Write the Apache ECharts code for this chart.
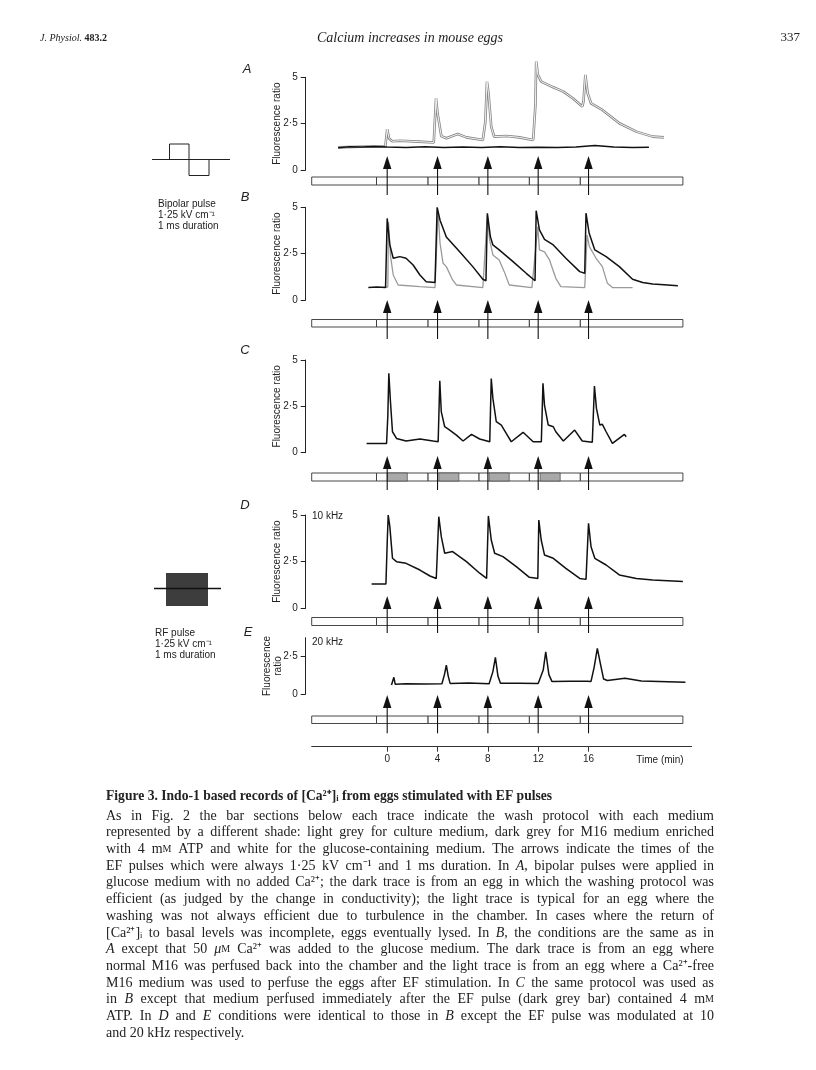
<!DOCTYPE html>
<html>
<head>
<meta charset="utf-8">
<script src="https://cdn.jsdelivr.net/npm/echarts@6.0.0/dist/echarts.min.js"></script>
<style>
html, body { margin: 0; padding: 0; background: #fff; }
#main { width: 816px; height: 1070px; }
</style>
</head>
<body>
<div id="main"></div>
<script>
// time in minutes, values = fluorescence ratio
var timeTicks = [0, 4, 8, 12, 16];
var pulseTimes = [0, 4, 8, 12, 16];
var washBounds = [-6, -0.85, 3.25, 7.3, 11.3, 15.35, 23.5];
var atpBlocks = [[0, 1.6], [4.1, 5.7], [8.1, 9.7], [12.15, 13.75]];
var yTicks = [0, 2.5, 5];
var yTicksE = [0, 2.5];

var traceADark = [[-3.9,1.2],[-3.0,1.26],[-2.0,1.24],[-1.0,1.27],[0.0,1.24],[1.5,1.22],[3.0,1.25],[4.5,1.21],[6.0,1.24],[7.5,1.22],[9.0,1.25],[10.5,1.21],[12.0,1.23],[13.5,1.22],[15.0,1.24],[16.5,1.32],[18.0,1.24],[19.5,1.22],[20.8,1.23]];
var traceALight = [[-3.9,1.22],[-1.5,1.27],[-0.15,1.26],[0.0,2.2],[0.15,1.7],[0.4,1.55],[1.0,1.58],[2.5,1.53],[3.7,1.48],[3.8,2.8],[3.88,3.87],[4.0,3.06],[4.3,1.83],[4.7,1.71],[5.6,1.94],[6.3,1.76],[7.6,1.62],[7.8,2.6],[7.93,4.77],[8.05,4.14],[8.27,2.34],[8.5,1.8],[9.5,1.83],[10.5,1.76],[11.6,1.62],[11.78,3.5],[11.84,5.85],[11.98,5.13],[12.24,4.77],[13.2,4.46],[14.0,4.23],[14.75,3.87],[15.5,3.42],[15.6,3.7],[15.75,5.13],[15.93,4.14],[16.2,3.6],[17.1,3.24],[18.45,2.52],[19.8,2.07],[21.1,1.8],[22.0,1.76]];

var traceBDark = [[-1.5,0.68],[-0.8,0.7],[-0.13,0.67],[0.0,4.4],[0.2,3.0],[0.48,2.25],[1.0,2.34],[1.5,2.25],[2.06,1.89],[2.6,1.35],[3.1,0.99],[3.8,0.94],[3.97,5.0],[4.2,4.3],[4.7,3.4],[5.76,2.6],[6.8,1.8],[7.6,1.12],[7.85,1.04],[7.96,4.68],[8.2,3.42],[8.4,2.97],[8.9,2.7],[10.0,2.07],[11.05,1.44],[11.75,1.04],[11.84,4.82],[12.1,3.78],[12.5,3.27],[13.2,2.97],[14.2,2.25],[15.3,1.53],[15.7,1.44],[15.8,4.68],[16.05,3.6],[16.5,2.7],[17.4,2.34],[18.45,1.8],[19.5,1.12],[20.3,0.94],[21.1,0.86],[22.0,0.82],[23.1,0.77]];
var traceBLight = [[-0.3,0.68],[0.05,0.7],[0.1,4.2],[0.27,2.34],[0.48,1.35],[0.87,0.81],[2.6,0.72],[3.8,0.67],[4.04,4.77],[4.2,3.06],[4.44,1.98],[4.7,1.8],[5.2,1.08],[5.5,0.81],[7.6,0.67],[7.96,4.59],[8.14,3.24],[8.4,2.43],[8.9,2.16],[9.3,1.53],[9.7,0.81],[11.5,0.67],[11.97,3.96],[12.1,2.7],[12.5,2.6],[12.9,2.16],[13.4,1.17],[13.8,0.72],[15.7,0.67],[15.89,3.5],[16.07,2.88],[16.6,2.25],[17.1,1.8],[17.5,0.9],[17.9,0.67],[19.5,0.67]];

var traceC = [[-1.64,0.5],[-0.05,0.5],[0.05,2.0],[0.13,4.28],[0.26,2.75],[0.42,1.13],[0.74,0.77],[1.5,0.63],[2.6,0.74],[3.65,0.63],[4.05,0.59],[4.18,3.88],[4.3,2.2],[4.57,1.4],[4.97,1.22],[5.5,0.95],[6.03,0.63],[6.7,0.99],[7.35,0.74],[8.15,0.59],[8.27,4.0],[8.4,2.93],[8.67,1.67],[9.07,1.49],[9.46,1.04],[9.86,0.59],[10.8,1.1],[11.6,0.59],[12.25,0.59],[12.38,3.74],[12.5,2.57],[12.8,1.49],[13.2,1.4],[13.4,1.13],[14.0,0.63],[14.9,1.22],[15.5,0.63],[16.3,0.56],[16.47,3.6],[16.63,2.39],[16.9,1.49],[17.1,1.53],[17.4,1.13],[17.9,0.5],[18.85,0.99],[19.0,0.86]];

var traceD = [[-1.24,1.3],[-0.1,1.3],[0.0,3.5],[0.08,5.0],[0.21,4.38],[0.42,2.68],[0.74,2.5],[1.5,2.41],[2.6,2.05],[3.4,1.73],[3.9,1.6],[4.1,4.91],[4.3,3.84],[4.57,2.95],[5.2,3.04],[6.3,2.5],[7.35,1.88],[7.9,1.6],[8.04,4.95],[8.27,3.66],[8.54,2.95],[9.2,2.77],[10.26,2.23],[11.3,1.66],[11.97,1.6],[12.05,4.73],[12.24,3.66],[12.5,2.86],[13.2,2.68],[14.2,2.14],[15.3,1.6],[15.8,1.55],[16.0,4.55],[16.2,3.3],[16.5,2.68],[17.4,2.32],[18.45,1.79],[19.8,1.6],[21.1,1.52],[23.5,1.43]];

var traceE = [[0.34,0.6],[0.45,0.62],[0.53,1.12],[0.64,0.65],[1.5,0.69],[3.0,0.67],[4.35,0.69],[4.55,1.3],[4.7,1.94],[4.85,1.2],[5.0,0.71],[6.5,0.73],[8.1,0.69],[8.4,1.5],[8.6,2.46],[8.8,1.2],[9.0,0.72],[10.5,0.72],[12.0,0.71],[12.4,1.6],[12.6,2.83],[12.85,1.3],[13.1,0.83],[14.5,0.85],[15.9,0.85],[16.2,0.84],[16.45,1.8],[16.7,3.06],[16.95,2.0],[17.2,1.0],[17.5,0.9],[18.9,1.05],[20.2,0.87],[23.7,0.78]];

var captionTitle = 'Figure 3. Indo-1 based records of [Ca²⁺]ᵢ from eggs stimulated with EF pulses';
var captionLines = [
  'As in Fig. 2 the bar sections below each trace indicate the wash protocol with each medium',
  'represented by a different shade: light grey for culture medium, dark grey for M16 medium enriched',
  'with 4 m{s|M} ATP and white for the glucose-containing medium. The arrows indicate the times of the',
  'EF pulses which were always 1·25 kV cm⁻¹ and 1 ms duration. In {i|A}, bipolar pulses were applied in',
  'glucose medium with no added Ca²⁺; the dark trace is from an egg in which the washing protocol was',
  'efficient (as judged by the change in conductivity); the light trace is typical for an egg where the',
  'washing was not always efficient due to turbulence in the chamber. In cases where the return of',
  '[Ca²⁺]ᵢ to basal levels was incomplete, eggs eventually lysed. In {i|B}, the conditions are the same as in',
  '{i|A} except that 50 {i|μ}{s|M} Ca²⁺ was added to the glucose medium. The dark trace is from an egg where',
  'normal M16 was perfused back into the chamber and the light trace is from an egg where a Ca²⁺-free',
  'M16 medium was used to perfuse the eggs after EF stimulation. In {i|C} the same protocol was used as',
  'in {i|B} except that medium perfused immediately after the EF pulse (dark grey bar) contained 4 m{s|M}',
  'ATP. In {i|D} and {i|E} conditions were identical to those in {i|B} except the EF pulse was modulated at 10',
  'and 20 kHz respectively.'
];

var SANS = '"Liberation Sans", Arial, sans-serif';
var SERIF = '"Liberation Serif", "Times New Roman", serif';
var X0 = 311.7, XW = 380, XMIN = -6, XMAX = 24.2;

var panels = [
  { letter: 'A', lx: 247, ly: 69, top: 77.3, zero: 170, max: 5, ticks: yTicks, tip: 156, barTop: 177, barBot: 185, end: 195,
    traces: [{ d: traceALight, kind: 'double' }, { d: traceADark, kind: 'dark' }] },
  { letter: 'B', lx: 245, ly: 197, top: 207.3, zero: 300, max: 5, ticks: yTicks, tip: 300, barTop: 319.5, barBot: 327, end: 339,
    traces: [{ d: traceBLight, kind: 'light' }, { d: traceBDark, kind: 'dark' }] },
  { letter: 'C', lx: 245, ly: 350, top: 360, zero: 452.7, max: 5, ticks: yTicks, tip: 456, barTop: 473, barBot: 481, end: 490,
    traces: [{ d: traceC, kind: 'dark' }], atp: true },
  { letter: 'D', lx: 245, ly: 505, top: 515, zero: 608.3, max: 5, ticks: yTicks, tip: 596, barTop: 617.5, barBot: 625.5, end: 633,
    traces: [{ d: traceD, kind: 'dark' }], note: '10 kHz', noteY: 516 },
  { letter: 'E', lx: 248, ly: 632, top: 637.7, zero: 694, max: 3.77, ticks: yTicksE, tip: 695, barTop: 716, barBot: 723.5, end: 733.3,
    traces: [{ d: traceE, kind: 'dark' }], note: '20 kHz', noteY: 642, twoLine: true }
];

var grids = [], xAxes = [], yAxes = [], series = [], graphics = [];

function hiddenX(i) {
  return { gridIndex: i, type: 'value', min: XMIN, max: XMAX, show: false };
}

panels.forEach(function (p, i) {
  grids.push({ left: X0, width: XW, top: p.top, height: p.zero - p.top });
  xAxes.push(hiddenX(i));
  yAxes.push({
    gridIndex: i, type: 'value', min: 0, max: p.max, offset: 6, position: 'left',
    axisLine: { show: true, onZero: false, lineStyle: { color: '#222', width: 1 } },
    axisTick: { show: true, length: 5, customValues: p.ticks, lineStyle: { color: '#222' } },
    axisLabel: { customValues: p.ticks, margin: 8, fontSize: 10, fontFamily: SANS, color: '#222',
      formatter: function (v) { return v === 2.5 ? '2·5' : String(v); } },
    splitLine: { show: false }
  });
  p.traces.forEach(function (t) {
    var base = { type: 'line', xAxisIndex: i, yAxisIndex: i, data: t.d, showSymbol: false, clip: false, silent: true };
    if (t.kind === 'double') {
      series.push(Object.assign({}, base, { lineStyle: { color: '#858585', width: 2.6 } }));
      series.push(Object.assign({}, base, { lineStyle: { color: '#fff', width: 0.9 } }));
    } else if (t.kind === 'light') {
      series.push(Object.assign({}, base, { lineStyle: { color: '#9a9a9a', width: 1.3 } }));
    } else {
      series.push(Object.assign({}, base, { lineStyle: { color: '#111', width: 1.5 } }));
    }
  });
});

// protocol bar + arrow grids
panels.forEach(function (p, i) {
  var gi = 5 + i;
  grids.push({ left: X0, width: XW, top: p.tip, height: p.end - p.tip });
  xAxes.push(hiddenX(gi));
  yAxes.push({ gridIndex: gi, type: 'value', min: 0, max: 1, show: false });
  var segs = [];
  for (var k = 0; k < washBounds.length - 1; k++) segs.push([washBounds[k], washBounds[k + 1], 0]);
  if (p.atp) atpBlocks.forEach(function (b) { segs.push([b[0], b[1], 1]); });
  var bTop = p.barTop - p.tip, bH = p.barBot - p.barTop;
  series.push({
    type: 'custom', xAxisIndex: gi, yAxisIndex: gi, data: segs, silent: true, z: 2,
    renderItem: function (params, api) {
      var cs = params.coordSys;
      var x1 = api.coord([api.value(0), 0])[0], x2 = api.coord([api.value(1), 0])[0];
      var shaded = api.value(2) === 1;
      return { type: 'rect', shape: { x: x1, y: cs.y + bTop, width: x2 - x1, height: bH },
        style: { fill: shaded ? '#a9a9a9' : '#fdfdfd', stroke: '#333', lineWidth: shaded ? 0.6 : 0.9 } };
    }
  });
  series.push({
    type: 'custom', xAxisIndex: gi, yAxisIndex: gi, data: pulseTimes.map(function (t) { return [t]; }), silent: true, z: 3,
    renderItem: function (params, api) {
      var cs = params.coordSys;
      var x = api.coord([api.value(0), 0])[0];
      return { type: 'group', children: [
        { type: 'line', shape: { x1: x, y1: cs.y + 8, x2: x, y2: cs.y + cs.height }, style: { stroke: '#111', lineWidth: 1.1 } },
        { type: 'polygon', shape: { points: [[x, cs.y], [x - 4.2, cs.y + 13], [x + 4.2, cs.y + 13]] }, style: { fill: '#111' } }
      ] };
    }
  });
});

// time axis
grids.push({ left: X0, width: XW, top: 740, height: 6.7 });
xAxes.push({
  gridIndex: 10, type: 'value', min: XMIN, max: XMAX, position: 'bottom',
  axisLine: { show: true, onZero: false, lineStyle: { color: '#333', width: 1 } },
  axisTick: { show: true, length: 5, customValues: timeTicks, lineStyle: { color: '#333' } },
  axisLabel: { customValues: timeTicks, margin: 8, fontSize: 10, fontFamily: SANS, color: '#222' },
  splitLine: { show: false }
});
yAxes.push({ gridIndex: 10, type: 'value', min: 0, max: 1, show: false });

function txt(x, y, text, font, extra) {
  var st = { text: text, font: font, fill: '#222', align: 'left', verticalAlign: 'middle', textAlign: 'left', textVerticalAlign: 'middle' };
  if (extra) Object.keys(extra).forEach(function (k) { st[k] = extra[k]; });
  if (st.align) st.textAlign = st.align;
  return { type: 'text', x: x, y: y, style: st, silent: true };
}

panels.forEach(function (p) {
  graphics.push(txt(p.lx, p.ly, p.letter, 'italic 13px ' + SANS, { align: 'center' }));
  var cy = (p.top + p.zero) / 2;
  if (p.twoLine) {
    graphics.push(Object.assign(txt(267, 666, 'Fluorescence', '10px ' + SANS, { align: 'center' }), { rotation: Math.PI / 2 }));
    graphics.push(Object.assign(txt(278, 666, 'ratio', '10px ' + SANS, { align: 'center' }), { rotation: Math.PI / 2 }));
  } else {
    graphics.push(Object.assign(txt(277, cy, 'Fluorescence ratio', '10px ' + SANS, { align: 'center' }), { rotation: Math.PI / 2 }));
  }
  if (p.note) graphics.push(txt(312, p.noteY, p.note, '10px ' + SANS));
});
graphics.push(txt(660, 760, 'Time (min)', '10px ' + SANS, { align: 'center' }));

// header
graphics.push(txt(40, 38, '{i|J. Physiol.} {b|483.2}', '10px ' + SERIF, {
  rich: { i: { fontStyle: 'italic', fontSize: 10, fontFamily: SERIF }, b: { fontWeight: 'bold', fontSize: 10, fontFamily: SERIF } } }));
graphics.push(txt(410, 38, 'Calcium increases in mouse eggs', 'italic 14px ' + SERIF, { align: 'center' }));
graphics.push(txt(800, 38, '337', '13px ' + SERIF, { align: 'right' }));

// pulse icons
graphics.push({ type: 'polyline', shape: { points: [[152, 159.5], [230, 159.5]] }, style: { stroke: '#222', lineWidth: 1 }, silent: true });
graphics.push({ type: 'rect', shape: { x: 169.5, y: 144, width: 19.5, height: 15.5 }, style: { fill: 'none', stroke: '#222', lineWidth: 1 }, silent: true });
graphics.push({ type: 'rect', shape: { x: 189, y: 159.5, width: 20, height: 16 }, style: { fill: 'none', stroke: '#222', lineWidth: 1 }, silent: true });
['Bipolar pulse', '1·25 kV cm⁻¹', '1 ms duration'].forEach(function (s, k) {
  graphics.push(txt(158, 204 + k * 11, s, '10px ' + SANS));
});
graphics.push({ type: 'rect', shape: { x: 166, y: 573, width: 42, height: 33 }, style: { fill: '#3d3d3d' }, silent: true });
graphics.push({ type: 'polyline', shape: { points: [[154, 588.5], [221, 588.5]] }, style: { stroke: '#111', lineWidth: 1.4 }, silent: true });
['RF pulse', '1·25 kV cm⁻¹', '1 ms duration'].forEach(function (s, k) {
  graphics.push(txt(155, 633 + k * 11, s, '10px ' + SANS));
});

// caption, justified word by word
var CAP_L = 106, CAP_R = 714, CAP_Y0 = 816, CAP_DY = 16.7;
var ctx = document.createElement('canvas').getContext('2d');
function capFont(k) {
  if (k === 'i') return 'italic 14px ' + SERIF;
  if (k === 's') return '10px ' + SERIF;
  return '14px ' + SERIF;
}
function tokWidth(tok) {
  var re = /\{(\w)\|([^}]*)\}|([^{]+)/g, m, w = 0;
  while ((m = re.exec(tok))) {
    ctx.font = capFont(m[3] ? '' : m[1]);
    w += ctx.measureText(m[3] ? m[3] : m[2]).width;
  }
  return w;
}
var capRich = { i: { fontStyle: 'italic', fontSize: 14, fontFamily: SERIF }, s: { fontSize: 10, fontFamily: SERIF } };
graphics.push(txt(CAP_L, 796, captionTitle, 'bold 13.6px ' + SERIF));
captionLines.forEach(function (line, li) {
  var toks = line.split(' ');
  var ws = toks.map(tokWidth);
  var sum = ws.reduce(function (a, b) { return a + b; }, 0);
  var last = li === captionLines.length - 1;
  ctx.font = capFont('');
  var gap = last ? ctx.measureText(' ').width : (CAP_R - CAP_L - sum) / (toks.length - 1);
  var x = CAP_L, y = CAP_Y0 + li * CAP_DY;
  toks.forEach(function (t, k) {
    graphics.push(txt(x, y, t, '14px ' + SERIF, { rich: capRich }));
    x += ws[k] + gap;
  });
});

var chart = echarts.init(document.getElementById('main'), null, { renderer: 'canvas' });
chart.setOption({
  backgroundColor: '#fff',
  animation: false,
  grid: grids,
  xAxis: xAxes,
  yAxis: yAxes,
  series: series,
  graphic: { elements: graphics }
});
</script>
</body>
</html>
